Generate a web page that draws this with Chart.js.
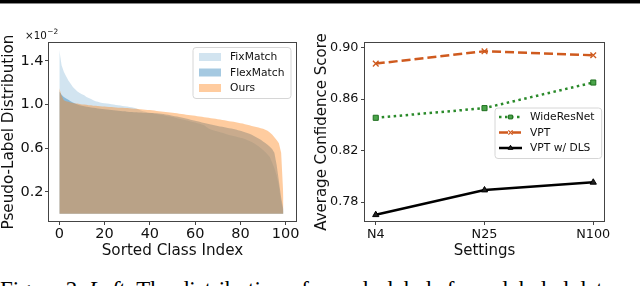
<!DOCTYPE html>
<html><head><meta charset="utf-8">
<script src="https://cdn.jsdelivr.net/npm/chart.js@4.4.1/dist/chart.umd.min.js"></script>
<style>
html,body{margin:0;padding:0;background:#fff;}
body{width:640px;height:286px;position:relative;overflow:hidden;}
#topline{position:absolute;left:0;top:0;width:640px;height:3px;background:#000;border-bottom:1px solid #888;}
#c1{position:absolute;left:0;top:0;}
#c2{position:absolute;left:305px;top:0;}
#caption{position:absolute;left:0;top:278px;width:900px;white-space:nowrap;font-family:"Liberation Serif","Times New Roman",serif;font-size:23px;line-height:23px;color:#000;}
</style></head><body>
<div id="topline"></div>
<canvas id="c1" width="305" height="262"></canvas>
<canvas id="c2" width="335" height="262"></canvas>
<div id="caption">Figure 2. <i>Left</i>: The distribution of pseudo-labels for unlabeled data</div>
<script>
// ---------- Left chart data ----------
const classIndex = [0,1,2,3,4,5,6,7,8,9,10,11,12,13,14,15,16,17,18,19,20,21,22,23,24,25,26,27,28,29,30,31,32,33,34,35,36,37,38,39,40,41,42,43,44,45,46,47,48,49,50,51,52,53,54,55,56,57,58,59,60,61,62,63,64,65,66,67,68,69,70,71,72,73,74,75,76,77,78,79,80,81,82,83,84,85,86,87,88,89,90,91,92,93,94,95,96,97,98,99];
const fixMatchDist = [1.5,1.36,1.3,1.26,1.22,1.19,1.16,1.14,1.12,1.105,
1.095,1.085,1.07,1.06,1.05,1.04,1.03,1.025,1.02,1.015,
1.012,1.01,1.008,1.004,1.0,0.997,0.994,0.991,0.988,0.985,
0.982,0.979,0.976,0.972,0.965,0.955,0.945,0.94,0.935,0.93,
0.926,0.922,0.918,0.914,0.91,0.906,0.902,0.898,0.894,0.89,
0.886,0.881,0.876,0.871,0.866,0.861,0.856,0.851,0.846,0.841,
0.836,0.83,0.824,0.818,0.81,0.795,0.78,0.772,0.765,0.759,
0.753,0.747,0.741,0.735,0.728,0.722,0.717,0.712,0.707,0.702,
0.697,0.691,0.684,0.676,0.667,0.657,0.645,0.632,0.618,0.602,
0.584,0.565,0.544,0.52,0.47,0.42,0.35,0.26,0.11,0.02];
const flexMatchDist = [1.12,1.09,1.07,1.055,1.045,1.03,1.02,1.01,1.0,0.995,
0.99,0.985,0.98,0.977,0.974,0.971,0.968,0.965,0.962,0.96,
0.958,0.955,0.953,0.95,0.948,0.946,0.944,0.942,0.94,0.938,
0.935,0.933,0.931,0.93,0.929,0.928,0.927,0.926,0.925,0.924,
0.923,0.922,0.921,0.92,0.918,0.916,0.913,0.91,0.906,0.902,
0.898,0.894,0.89,0.886,0.882,0.877,0.872,0.867,0.862,0.857,
0.852,0.847,0.842,0.837,0.832,0.827,0.822,0.817,0.812,0.808,
0.804,0.8,0.796,0.792,0.788,0.784,0.78,0.776,0.771,0.766,
0.76,0.754,0.747,0.74,0.732,0.723,0.713,0.702,0.69,0.677,
0.663,0.648,0.632,0.614,0.594,0.56,0.45,0.3,0.15,0.04];
const oursDist = [1.15,1.08,1.04,1.03,1.025,1.02,1.015,1.01,1.01,1.005,
1.0,1.0,0.998,0.995,0.995,0.99,0.99,0.988,0.985,0.983,
0.982,0.98,0.978,0.977,0.975,0.974,0.972,0.971,0.97,0.969,
0.968,0.966,0.965,0.963,0.961,0.959,0.957,0.955,0.953,0.951,
0.95,0.947,0.945,0.942,0.94,0.937,0.935,0.932,0.93,0.928,
0.925,0.922,0.92,0.917,0.914,0.911,0.908,0.905,0.902,0.9,
0.897,0.894,0.891,0.888,0.885,0.882,0.879,0.876,0.873,0.87,
0.866,0.863,0.86,0.856,0.852,0.848,0.845,0.842,0.838,0.834,
0.83,0.826,0.821,0.816,0.81,0.805,0.8,0.795,0.79,0.784,
0.778,0.77,0.76,0.745,0.725,0.7,0.675,0.645,0.56,0.15];
const leftXTicks = [0,20,40,60,80,100];
const leftYTicks = [0.2,0.6,1.0,1.4];

// ---------- Right chart data ----------
const settings = ['N4','N25','N100'];
const wideResNet = [0.8455,0.8530,0.8729];
const vpt = [0.8876,0.8972,0.8941];
const vptDLS = [0.7701,0.7893,0.7953];
const rightYTicks = [0.78,0.82,0.86,0.90];

const FAM = '"DejaVu Sans", Verdana, sans-serif';
const TXT = '#111';
const SPINE = '#444';

function roundRect(ctx,x,y,w,h,r){
  ctx.beginPath();
  ctx.moveTo(x+r,y);ctx.lineTo(x+w-r,y);ctx.quadraticCurveTo(x+w,y,x+w,y+r);
  ctx.lineTo(x+w,y+h-r);ctx.quadraticCurveTo(x+w,y+h,x+w-r,y+h);
  ctx.lineTo(x+r,y+h);ctx.quadraticCurveTo(x,y+h,x,y+h-r);
  ctx.lineTo(x,y+r);ctx.quadraticCurveTo(x,y,x+r,y);ctx.closePath();
}

const framePlugin = {id:'frame', afterDatasetsDraw(chart){
  const a=chart.chartArea, ctx=chart.ctx;
  ctx.save();ctx.strokeStyle=SPINE;ctx.lineWidth=1;
  ctx.strokeRect(Math.round(a.left)+0.5,Math.round(a.top)+0.5,Math.round(a.right-a.left)-1,Math.round(a.bottom-a.top)-1);
  ctx.restore();
}};

const leftLegend = {id:'leftLegend', afterDraw(chart){
  const ctx=chart.ctx, a=chart.chartArea;
  const bx=a.right-104, by=a.top+5.5, bw=98, bh=51;
  ctx.save();
  roundRect(ctx,bx,by,bw,bh,3);
  ctx.fillStyle='rgba(255,255,255,0.8)';ctx.fill();
  ctx.strokeStyle='#d6d6d6';ctx.lineWidth=1;ctx.stroke();
  const ds = chart.data.datasets.slice().reverse();
  ds.forEach((d,k)=>{
    const y = by+9.5+k*15.5;
    ctx.fillStyle=d.backgroundColor;
    ctx.fillRect(bx+6,y-4,22,8);
    ctx.fillStyle=TXT;ctx.font='10.7px '+FAM;ctx.textBaseline='middle';ctx.textAlign='left';
    ctx.fillText(d.label,bx+37,y+0.5);
  });
  // offset text
  ctx.fillStyle=TXT;ctx.textBaseline='alphabetic';
  ctx.font='10.3px '+FAM;ctx.fillText('\u00d710',25,38.5);
  const w=ctx.measureText('\u00d710').width;
  ctx.font='7.4px '+FAM;ctx.fillText('\u22122',25+w+0.5,34);
  ctx.restore();
}};

const rightLegend = {id:'rightLegend', afterDraw(chart){
  const ctx=chart.ctx, a=chart.chartArea;
  const bx=a.right-110, by=a.top+66, bw=106.7, bh=50.5;
  ctx.save();
  roundRect(ctx,bx,by,bw,bh,3);
  ctx.fillStyle='rgba(255,255,255,0.8)';ctx.fill();
  ctx.strokeStyle='#d6d6d6';ctx.lineWidth=1;ctx.stroke();
  chart.data.datasets.forEach((d,k)=>{
    const y = by+9+k*15.5;
    const x0=bx+4, x1=bx+27;
    ctx.save();
    ctx.strokeStyle=d.borderColor;ctx.lineWidth=d.borderWidth;ctx.setLineDash(d.borderDash||[]);
    ctx.beginPath();ctx.moveTo(x0,y);ctx.lineTo(x1,y);ctx.stroke();
    ctx.setLineDash([]);
    ctx.fillStyle=d.pointBackgroundColor;ctx.strokeStyle=d.pointBorderColor;ctx.lineWidth=d.pointBorderWidth;
    if(Chart.helpers && Chart.helpers.drawPoint){
      Chart.helpers.drawPoint(ctx,{pointStyle:d.pointStyle,radius:d.pointRadius*0.75,borderWidth:d.pointBorderWidth,rotation:0},(x0+x1)/2,y);
    }
    ctx.restore();
    ctx.fillStyle=TXT;ctx.font='10.7px '+FAM;ctx.textBaseline='middle';ctx.textAlign='left';
    ctx.fillText(d.label,bx+35,y+0.5);
  });
  ctx.restore();
}};

function mkDs(label,data,color){
  return {label,data,backgroundColor:color,borderColor:'rgba(0,0,0,0)',borderWidth:0,fill:'origin',pointRadius:0,tension:0};
}

new Chart(document.getElementById('c1'),{
  type:'line',
  data:{labels:classIndex,datasets:[
    mkDs('Ours',oursDist,'rgba(255,127,14,0.4)'),
    mkDs('FlexMatch',flexMatchDist,'rgba(31,119,180,0.4)'),
    mkDs('FixMatch',fixMatchDist,'rgba(31,119,180,0.2)')
  ]},
  options:{
    responsive:false,animation:false,devicePixelRatio:1,
    layout:{padding:{left:0,top:42,right:8,bottom:0}},
    plugins:{legend:{display:false},tooltip:{enabled:false}},
    scales:{
      x:{type:'linear',min:-5,max:105,
        afterBuildTicks:s=>{s.ticks=leftXTicks.map(v=>({value:v}));},
        afterFit:s=>{s.height=40;},
        grid:{drawOnChartArea:false,tickLength:3,color:SPINE},
        border:{display:false},
        ticks:{font:{family:FAM,size:14.5},color:TXT,padding:1,maxRotation:0,callback:v=>String(v)},
        title:{display:true,text:'Sorted Class Index',font:{family:FAM,size:15.2,lineHeight:1.2},color:TXT,padding:{top:0,bottom:2}}},
      y:{min:-0.075,max:1.573,
        afterBuildTicks:s=>{s.ticks=leftYTicks.map(v=>({value:v}));},
        afterFit:s=>{s.width=48;},
        grid:{drawOnChartArea:false,tickLength:3,color:SPINE},
        border:{display:false},
        ticks:{font:{family:FAM,size:14.5},color:TXT,padding:1.5,callback:v=>Number(v).toFixed(1)},
        title:{display:true,text:'Pseudo-Label Distribution',font:{family:FAM,size:15.2,lineHeight:1.2},color:TXT,padding:{top:0,bottom:0}}}
    }
  },
  plugins:[framePlugin,leftLegend]
});

new Chart(document.getElementById('c2'),{
  type:'line',
  data:{datasets:[
    {label:'WideResNet',data:settings.map((s,i)=>({x:i,y:wideResNet[i]})),borderColor:'#2a8a2a',borderWidth:2.5,borderDash:[2.5,3.5],
     pointStyle:'rect',pointRadius:3.6,pointBackgroundColor:'#4aa54a',pointBorderColor:'#1e6e1e',pointBorderWidth:1,tension:0,fill:false},
    {label:'VPT',data:settings.map((s,i)=>({x:i,y:vpt[i]})),borderColor:'#cf5a1e',borderWidth:2.5,borderDash:[9,4],
     pointStyle:'crossRot',pointRadius:4,pointBackgroundColor:'#cf5a1e',pointBorderColor:'#cf5a1e',pointBorderWidth:1.3,tension:0,fill:false},
    {label:'VPT w/ DLS',data:settings.map((s,i)=>({x:i,y:vptDLS[i]})),borderColor:'#000',borderWidth:2.5,
     pointStyle:'triangle',pointRadius:3.6,pointBackgroundColor:'#222',pointBorderColor:'#000',pointBorderWidth:1,tension:0,fill:false}
  ]},
  options:{
    responsive:false,animation:false,devicePixelRatio:1,
    layout:{padding:{left:0,top:42,right:35,bottom:0}},
    plugins:{legend:{display:false},tooltip:{enabled:false}},
    scales:{
      x:{type:'linear',min:-0.108,max:2.108,
        afterBuildTicks:s=>{s.ticks=settings.map((t,i)=>({value:i}));},
        afterFit:s=>{s.height=40;},
        grid:{drawOnChartArea:false,tickLength:3,color:SPINE},
        border:{display:false},
        ticks:{font:{family:FAM,size:12.8},color:TXT,padding:2,maxRotation:0,callback:v=>settings[Math.round(v)]},
        title:{display:true,text:'Settings',font:{family:FAM,size:15,lineHeight:1.2},color:TXT,padding:{top:0,bottom:2}}},
      y:{min:0.7645,max:0.9044,
        afterBuildTicks:s=>{s.ticks=rightYTicks.map(v=>({value:v}));},
        afterFit:s=>{s.width=59;},
        grid:{drawOnChartArea:false,tickLength:3,color:SPINE},
        border:{display:false},
        ticks:{font:{family:FAM,size:12.8},color:TXT,padding:2.5,callback:v=>Number(v).toFixed(2)},
        title:{display:true,text:'Average Confidence Score',font:{family:FAM,size:15,lineHeight:1.2},color:TXT,padding:{top:8,bottom:0}}}
    }
  },
  plugins:[framePlugin,rightLegend]
});
</script>
</body></html>
